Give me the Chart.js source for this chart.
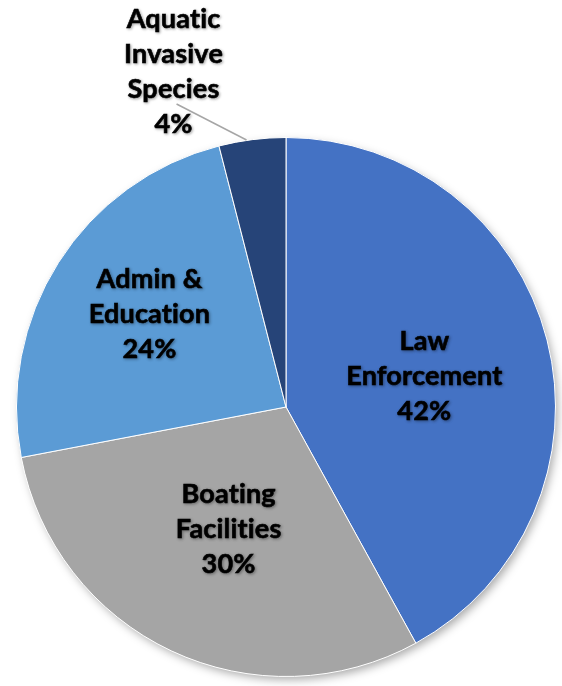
<!DOCTYPE html>
<html>
<head>
<meta charset="utf-8">
<script src="https://cdn.jsdelivr.net/npm/chart.js@4/dist/chart.umd.min.js"></script>
<style>
  body { margin: 0; background: #fff; }
</style>
</head>
<body>
<canvas id="pie" width="562" height="686"></canvas>
<script>
// budget shares (percent)
const categories = ['Law Enforcement', 'Boating Facilities', 'Admin & Education', 'Aquatic Invasive Species'];
const shares = [42, 30, 24, 4];
const labelLines = [['Law', 'Enforcement'], ['Boating', 'Facilities'], ['Admin &', 'Education'], ['Aquatic', 'Invasive', 'Species']];
const colors = ['#4472C4', '#A5A5A5', '#5B9BD5', '#264478'];
const rimColors = ['#2A4D8F', '#6E6E6E', '#2F6FAE', '#17294A'];

function sliceFill(context) {
    const chart = context.chart;
    const arc = chart.getDatasetMeta(0).data[context.dataIndex];
    if (!arc || !arc.outerRadius) return colors[context.dataIndex];
    const g = chart.ctx.createRadialGradient(arc.x, arc.y, 0, arc.x, arc.y, arc.outerRadius);
    g.addColorStop(0, colors[context.dataIndex]);
    g.addColorStop(0.95, colors[context.dataIndex]);
    g.addColorStop(1, rimColors[context.dataIndex]);
    return g;
}

// soft drop shadow under the whole pie
const pieShadow = {
    id: 'pieShadow',
    beforeDatasetsDraw(chart) {
        const arc = chart.getDatasetMeta(0).data[0];
        if (!arc) return;
        const ctx = chart.ctx;
        ctx.save();
        ctx.shadowColor = 'rgba(0,0,0,0.35)';
        ctx.shadowBlur = 10;
        ctx.shadowOffsetX = 3;
        ctx.shadowOffsetY = 4;
        ctx.fillStyle = '#888';
        ctx.beginPath();
        ctx.arc(arc.x, arc.y, arc.outerRadius - 1, 0, Math.PI * 2);
        ctx.fill();
        ctx.restore();
    }
};

// slice labels: name lines + percentage
const sliceLabels = {
    id: 'sliceLabels',
    afterDatasetsDraw(chart) {
        const ctx = chart.ctx;
        const meta = chart.getDatasetMeta(0);
        const lineH = 35;
        meta.data.forEach((arc, i) => {
            const mid = (arc.startAngle + arc.endAngle) / 2;
            const lines = labelLines[i].concat([shares[i] + '%']);
            let cx, cy;
            if (i === 3) {
                // outside label with leader line
                const ex = arc.x + Math.cos(mid - 0.01) * arc.outerRadius;
                const ey = arc.y + Math.sin(mid - 0.01) * arc.outerRadius;
                ctx.save();
                ctx.strokeStyle = '#A6A6A6';
                ctx.lineWidth = 1.5;
                ctx.beginPath();
                ctx.moveTo(ex - 3, ey);
                ctx.lineTo(ex - 73, ey - 36);
                ctx.stroke();
                ctx.restore();
                cx = ex - 76;
                cy = ey - 68;
            } else {
                const f = [0.53, 0.5, 0.6][i];
                const dy = [5, 0, -6][i];
                cx = arc.x + Math.cos(mid) * arc.outerRadius * f;
                cy = arc.y + Math.sin(mid) * arc.outerRadius * f + dy;
            }
            ctx.save();
            ctx.font = 'bold 27px Lato';
            if ('letterSpacing' in ctx) ctx.letterSpacing = '0.2px'; // no ti/fi ligatures
            ctx.fillStyle = '#000';
            ctx.textAlign = 'center';
            ctx.textBaseline = 'middle';
            ctx.shadowColor = 'rgba(0,0,0,0.35)';
            ctx.shadowBlur = 3;
            ctx.shadowOffsetX = 1;
            ctx.shadowOffsetY = 1;
            ctx.strokeStyle = '#000';
            ctx.lineWidth = 0.6;
            const top = cy - (lines.length - 1) * lineH / 2;
            lines.forEach((t, k) => {
                ctx.fillText(t, cx, top + k * lineH);
                ctx.strokeText(t, cx, top + k * lineH);
            });
            ctx.restore();
        });
    }
};

new Chart(document.querySelector('#pie').getContext('2d'), {
    type: 'pie',
    data: {
        labels: categories,
        datasets: [{
            data: shares,
            backgroundColor: sliceFill,
            borderColor: '#ffffff',
            borderWidth: 1
        }]
    },
    options: {
        responsive: false,
        animation: false,
        layout: { padding: { top: 137, bottom: 9, left: 16, right: 6 } },
        plugins: {
            legend: { display: false },
            tooltip: { enabled: false }
        }
    },
    plugins: [pieShadow, sliceLabels]
});
</script>
</body>
</html>
